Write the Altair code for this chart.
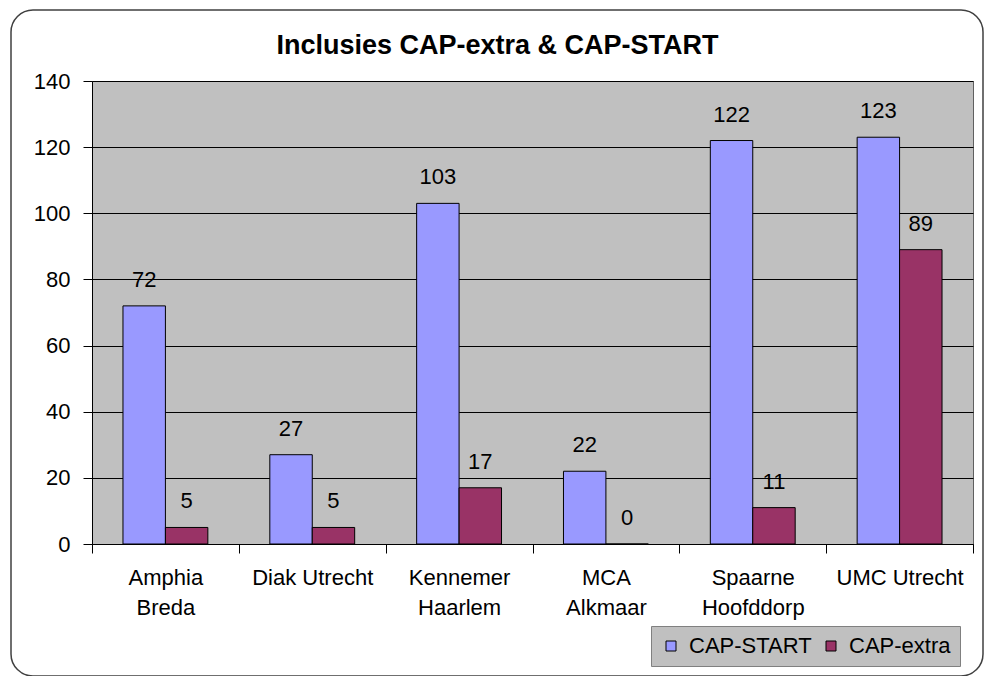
import altair as alt
import pandas as pd

# ---- data ----
category_lines = [
    ["Amphia", "Breda"],
    ["Diak Utrecht"],
    ["Kennemer", "Haarlem"],
    ["MCA", "Alkmaar"],
    ["Spaarne", "Hoofddorp"],
    ["UMC Utrecht"],
]
series_names = ["CAP-START", "CAP-extra"]
cap_start = [72, 27, 103, 22, 122, 123]
cap_extra = [5, 5, 17, 0, 11, 89]
series_colors = ["#9999FF", "#993366"]
y_ticks = [0, 20, 40, 60, 80, 100, 120, 140]
title_text = "Inclusies CAP-extra & CAP-START"

categories = ["\n".join(lines) for lines in category_lines]
rows = []
for c, s, e in zip(categories, cap_start, cap_extra):
    rows.append({"cat": c, "series": series_names[0], "value": s})
    rows.append({"cat": c, "series": series_names[1], "value": e})
df = pd.DataFrame(rows)

FONT = "Liberation Sans"
W, H = 881, 463

x_enc = alt.X(
    "cat:N",
    sort=categories,
    scale=alt.Scale(paddingInner=0, paddingOuter=0),
    axis=alt.Axis(
        title=None,
        labelAngle=0,
        tickBand="extent",
        labelExpr="split(datum.label, '\\n')",
        labelLineHeight=30,
        labelFontSize=22,
        labelFont=FONT,
        labelColor="black",
        labelPadding=14,
        labelBaseline="top",
        tickSize=9,
        tickColor="black",
        domainColor="black",
        grid=False,
    ),
)
xoff_enc = alt.XOffset(
    "series:N",
    sort=series_names,
    scale=alt.Scale(domain=series_names, paddingInner=0, paddingOuter=0.73),
)
y_enc = alt.Y(
    "value:Q",
    scale=alt.Scale(domain=[0, 140], nice=False),
    axis=alt.Axis(
        title=None,
        values=y_ticks,
        grid=True,
        gridColor="black",
        gridWidth=1,
        tickSize=9,
        tickColor="black",
        domainColor="black",
        labelFontSize=22,
        labelFont=FONT,
        labelColor="black",
        labelPadding=13,
    ),
)
color_enc = alt.Color(
    "series:N",
    scale=alt.Scale(domain=series_names, range=series_colors),
    legend=alt.Legend(
        title=None,
        orient="none",
        legendX=559,
        legendY=545,
        direction="horizontal",
        fillColor="#C0C0C0",
        strokeColor="#808080",
        padding=9,
        symbolType="square",
        symbolSize=100,
        symbolStrokeColor="black",
        symbolStrokeWidth=1,
        symbolOpacity=1,
        labelFontSize=22,
        labelFont=FONT,
        labelColor="black",
        labelOffset=7,
        columnPadding=8,
    ),
)

frame = alt.Chart(pd.DataFrame({"f": [0]})).mark_rect(
    fillOpacity=0, stroke="#404040", strokeWidth=1.5, cornerRadius=22
).encode(
    x=alt.value(-81), x2=alt.value(891), y=alt.value(-71), y2=alt.value(595)
)

bars = alt.Chart(df).mark_bar(stroke="black", strokeWidth=1, opacity=1).encode(
    x=x_enc, xOffset=xoff_enc, y=y_enc, color=color_enc
)

labels = alt.Chart(df).mark_text(
    dy=-19, baseline="alphabetic", fontSize=22, font=FONT, color="black"
).encode(x=x_enc, xOffset=xoff_enc, y=y_enc, text="value:Q")

chart = (
    alt.layer(frame, bars, labels)
    .properties(
        width=W,
        height=H,
        title=alt.Title(
            title_text,
            font=FONT,
            fontSize=27,
            fontWeight="bold",
            color="black",
            anchor="middle",
            baseline="alphabetic",
            dx=-35,
            dy=82,
            offset=10,
        ),
        autosize=alt.AutoSizeParams(type="none"),
        padding={"left": 84, "top": 73, "right": 12, "bottom": 132},
    )
    .configure_view(fill="#C0C0C0", stroke="#606060", strokeWidth=1)
)

chart.save("out.html", embed_options={"renderer": "svg", "actions": False})
